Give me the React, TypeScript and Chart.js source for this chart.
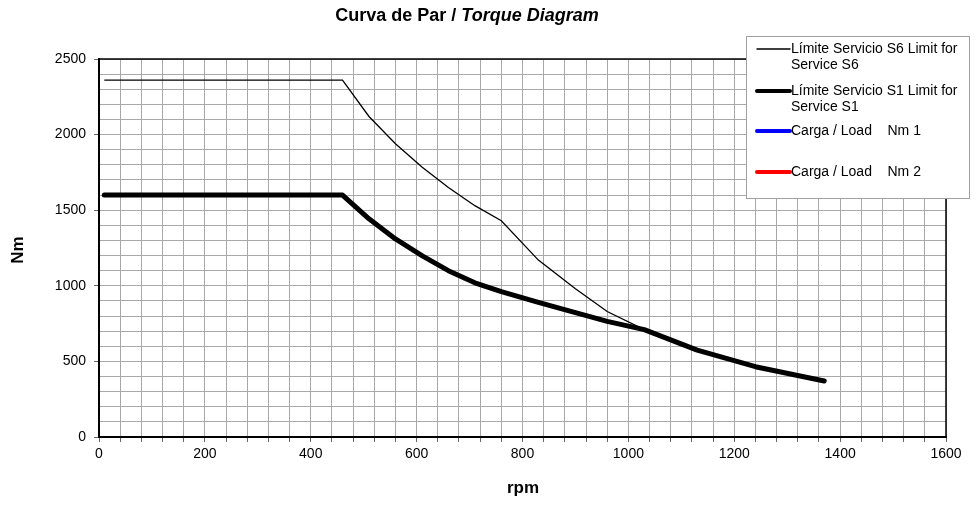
import React, { useEffect, useRef } from "react";
import { Chart, registerables } from "chart.js";

Chart.register(...registerables);

// ---- Data ----
const rpmS6 = [10, 460, 510, 560, 610, 660, 710, 760, 830, 900, 960, 1030, 1130, 1240, 1370];
const nmS6 = [2360, 2360, 2120, 1940, 1785, 1650, 1530, 1430, 1170, 980, 830, 710, 575, 465, 370];
const rpmS1 = [10, 460, 510, 560, 610, 660, 710, 760, 830, 900, 960, 1030, 1130, 1240, 1370];
const nmS1 = [1600, 1600, 1443, 1310, 1200, 1100, 1020, 962, 890, 822, 765, 710, 575, 465, 370];
const rpmLoad1: number[] = [];
const nmLoad1: number[] = [];
const rpmLoad2: number[] = [];
const nmLoad2: number[] = [];

const seriesLabels = [
  ["Límite Servicio S6 Limit for", "Service S6"],
  ["Límite Servicio S1 Limit for", "Service S1"],
  ["Carga / Load    Nm 1"],
  ["Carga / Load    Nm 2"],
];
const seriesColors = ["#000000", "#000000", "#0000ff", "#ff0000"];
const seriesWidths = [1.3, 5, 4, 4];

const titleMain = "Curva de Par / ";
const titleItalic = "Torque Diagram";
const xTitle = "rpm";
const yTitle = "Nm";
const xMin = 0, xMax = 1600, xStep = 40, xLabelStep = 200;
const yMin = 0, yMax = 2500, yStep = 100, yLabelStep = 500;

const FONT = "Arial, 'Liberation Sans', sans-serif";

const toPts = (xs: number[], ys: number[]) => xs.map((x, i) => ({ x, y: ys[i] }));

const decorPlugin = {
  id: "decor",
  afterDraw(chart: any) {
    const ctx = chart.ctx as CanvasRenderingContext2D;
    const a = chart.chartArea;
    ctx.save();
    // plot frame
    ctx.strokeStyle = "#000";
    ctx.lineWidth = 1.5;
    ctx.strokeRect(a.left, a.top, a.right - a.left, a.bottom - a.top);

    // title
    ctx.fillStyle = "#000";
    ctx.textBaseline = "middle";
    ctx.font = `bold 18px ${FONT}`;
    const w1 = ctx.measureText(titleMain).width;
    ctx.font = `italic bold 18px ${FONT}`;
    const w2 = ctx.measureText(titleItalic).width;
    const cx = 467;
    const sx = cx - (w1 + w2) / 2;
    ctx.textAlign = "left";
    ctx.font = `bold 18px ${FONT}`;
    ctx.fillText(titleMain, sx, 16);
    ctx.font = `italic bold 18px ${FONT}`;
    ctx.fillText(titleItalic, sx + w1, 16);

    // axis titles
    ctx.font = `bold 17px ${FONT}`;
    ctx.textAlign = "center";
    ctx.fillText(xTitle, 523, 488);
    ctx.save();
    ctx.translate(18, 250);
    ctx.rotate(-Math.PI / 2);
    ctx.fillText(yTitle, 0, 0);
    ctx.restore();

    // legend
    const lx = 746, ly = 36, lw = 223, lh = 162;
    ctx.fillStyle = "#fff";
    ctx.fillRect(lx, ly, lw, lh);
    ctx.strokeStyle = "#a0a0a0";
    ctx.lineWidth = 1;
    ctx.strokeRect(lx + 0.5, ly + 0.5, lw, lh);
    const rowY = [49, 91, 131, 172];
    ctx.font = `14px ${FONT}`;
    ctx.textAlign = "left";
    ctx.textBaseline = "middle";
    seriesLabels.forEach((lines, i) => {
      const y = rowY[i];
      ctx.strokeStyle = seriesColors[i];
      ctx.lineWidth = i === 0 ? seriesWidths[i] : 4;
      ctx.lineCap = "round";
      ctx.beginPath();
      ctx.moveTo(757, y);
      ctx.lineTo(790, y);
      ctx.stroke();
      ctx.fillStyle = "#000";
      lines.forEach((t, j) => ctx.fillText(t, 791, y + j * 16));
    });
    ctx.restore();
  },
};

export default function App() {
  const ref = useRef<HTMLCanvasElement | null>(null);
  useEffect(() => {
    document.body.style.margin = "0";
    const canvas = ref.current!;
    const chart = new Chart(canvas, {
      type: "line",
      data: {
        datasets: [
          { label: seriesLabels[0].join(" "), data: toPts(rpmS6, nmS6), borderColor: seriesColors[0], borderWidth: seriesWidths[0], pointRadius: 0, tension: 0 },
          { label: seriesLabels[1].join(" "), data: toPts(rpmS1, nmS1), borderColor: seriesColors[1], borderWidth: seriesWidths[1], pointRadius: 0, tension: 0, borderCapStyle: "round", borderJoinStyle: "round" },
          { label: seriesLabels[2][0], data: toPts(rpmLoad1, nmLoad1), borderColor: seriesColors[2], borderWidth: seriesWidths[2], pointRadius: 0 },
          { label: seriesLabels[3][0], data: toPts(rpmLoad2, nmLoad2), borderColor: seriesColors[3], borderWidth: seriesWidths[3], pointRadius: 0 },
        ] as any,
      },
      options: {
        animation: false,
        responsive: false,
        devicePixelRatio: 1,
        layout: { padding: { top: 59, right: 33, left: 0, bottom: 0 } },
        plugins: { legend: { display: false }, title: { display: false }, tooltip: { enabled: false } },
        scales: {
          x: {
            type: "linear",
            min: xMin,
            max: xMax,
            afterFit: (s: any) => { s.height = 68; },
            ticks: {
              stepSize: xStep,
              autoSkip: false,
              maxRotation: 0,
              padding: 4,
              color: "#000",
              font: { family: FONT, size: 14 },
              callback: (v: any) => (Number(v) % xLabelStep === 0 ? String(v) : ""),
            },
            grid: { color: "#a8a8a8", lineWidth: 1, tickLength: 5, tickColor: "#666" },
            border: { display: true, color: "#000", width: 2 },
          },
          y: {
            type: "linear",
            min: yMin,
            max: yMax,
            afterFit: (s: any) => { s.width = 99; },
            ticks: {
              stepSize: yStep,
              autoSkip: false,
              padding: 8,
              color: "#000",
              font: { family: FONT, size: 14 },
              callback: (v: any) => (Number(v) % yLabelStep === 0 ? String(v) : ""),
            },
            grid: {
              color: "#a8a8a8",
              lineWidth: 1,
              tickLength: 5,
              tickColor: (c: any) => (c.tick && c.tick.value % yLabelStep === 0 ? "#666" : "rgba(0,0,0,0)"),
            },
            border: { display: true, color: "#000", width: 2 },
          },
        },
      } as any,
      plugins: [decorPlugin],
    });
    return () => chart.destroy();
  }, []);
  return (
    <div style={{ width: 979, height: 505, position: "relative" }}>
      <canvas ref={ref} width={979} height={505} style={{ display: "block" }} />
    </div>
  );
}
